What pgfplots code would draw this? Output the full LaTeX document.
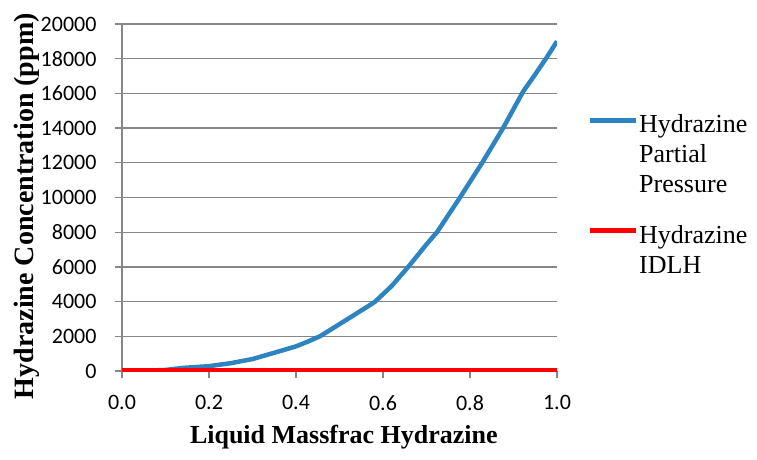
\documentclass[border=0pt]{standalone}
\usepackage{pgfplots}
\pgfplotsset{compat=1.18}
\usepackage{fontspec}
\setmainfont{Liberation Serif}
\newfontfamily\calibri{Carlito}
\definecolor{hblue}{RGB}{46,132,193}
\definecolor{gridgray}{RGB}{134,134,134}
\begin{document}
\begin{tikzpicture}
\path[use as bounding box] (-122pt,-89pt) rectangle (635pt,371pt);
\begin{axis}[
  at={(0pt,0pt)}, anchor=south west,
  scale only axis, width=435pt, height=347pt,
  xmin=0, xmax=1, ymin=0, ymax=20000,
  axis x line*=bottom, axis y line*=left,
  axis line style={gridgray, line width=1.2pt},
  tick align=outside, major tick length=7pt,
  tick style={gridgray, line width=1.2pt},
  xtick={0,0.2,0.4,0.6,0.8,1.0},
  ytick={0,2000,...,20000},
  ymajorgrids, grid style={gridgray, line width=1.2pt},
  scaled ticks=false,
  /pgf/number format/assume math mode=true,
  /pgf/number format/1000 sep={},
  tick label style={font=\calibri\fontsize{22}{26}\selectfont, text=black},
  xticklabel style={/pgf/number format/fixed, /pgf/number format/fixed zerofill, /pgf/number format/precision=1},
  xticklabel shift=14pt,
  yticklabel shift=15pt,
  xlabel={\textbf{Liquid Massfrac Hydrazine}},
  ylabel={\textbf{Hydrazine Concentration (ppm)}},
  xlabel style={font=\fontsize{26}{30}\selectfont, at={(axis description cs:0.51,-0.19)}, anchor=center},
  ylabel style={font=\fontsize{28}{30}\selectfont, at={(axis description cs:-0.218,0.475)}, anchor=center},
  legend style={at={(axis description cs:1.069,0.75)}, anchor=north west, draw=none, fill=none,
    font=\fontsize{26}{30}\selectfont, inner sep=0pt, row sep=86pt,
    nodes={inner sep=1pt}},
  legend cell align=left,
  legend image code/.code={\draw[#1, line width=5pt] plot coordinates {(0pt,0.3em) (46pt,0.3em)};},
]
\addplot[hblue, line width=4.5pt, line join=round] coordinates {
(0,0) (0.05,10) (0.1,60) (0.14,180) (0.16,210) (0.2,280) (0.25,450) (0.3,690)
(0.35,1050) (0.4,1420) (0.425,1670) (0.455,2000) (0.5,2700) (0.57,3800)
(0.582,4000) (0.62,4900) (0.658,6000) (0.7,7300) (0.724,8000) (0.777,10000)
(0.828,12000) (0.876,14000) (0.922,16100) (0.95,17100) (0.977,18100) (1.0,19000)
};
\addlegendentry{\begin{tabular}[t]{@{}l@{}}Hydrazine\\Partial\\Pressure\end{tabular}}
\addplot[red, line width=4.5pt] coordinates {(0,50) (1,50)};
\addlegendentry{\begin{tabular}[t]{@{}l@{}}Hydrazine\\IDLH\end{tabular}}
\end{axis}
\end{tikzpicture}
\end{document}
